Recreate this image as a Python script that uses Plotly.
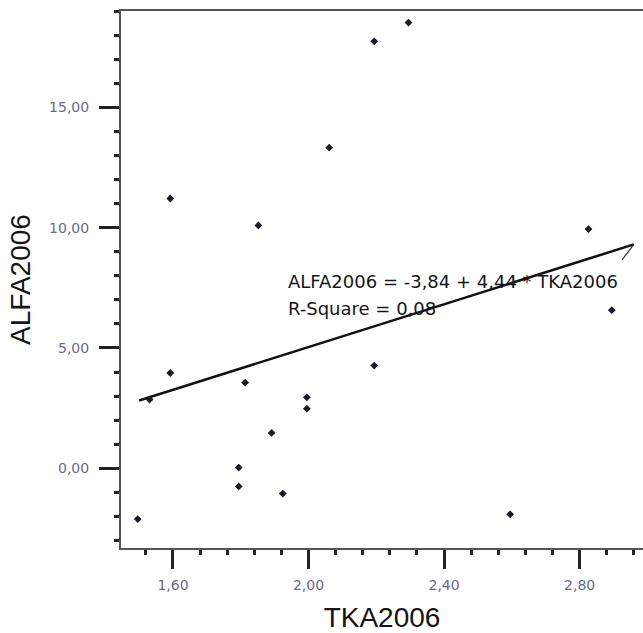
import plotly.graph_objects as go

# ---- data ----
tka2006 = [1.592, 1.852, 2.061, 2.194, 2.295, 2.826, 2.895, 1.592, 1.531, 1.813,
           2.194, 1.995, 1.995, 1.891, 1.794, 1.794, 1.924, 2.595, 1.496]
alfa2006 = [11.21, 10.09, 13.32, 17.74, 18.52, 9.94, 6.57, 3.96, 2.86, 3.56,
            4.27, 2.95, 2.48, 1.47, 0.03, -0.75, -1.05, -1.91, -2.11]

fit_intercept = -3.84
fit_slope = 4.44
fit_x = [1.50, 2.96]
fit_y = [fit_intercept + fit_slope * v for v in fit_x]

eq_text = "ALFA2006 = -3,84 + 4,44 * TKA2006"
r2_text = "R-Square = 0,08"

x_range = [1.4466, 2.987]
y_range = [-3.31, 19.0]

fig = go.Figure()
fig.add_trace(go.Scatter(
    x=fit_x, y=fit_y, mode="lines",
    line=dict(color="#111111", width=2.5), showlegend=False, hoverinfo="skip"))
fig.add_trace(go.Scatter(
    x=tka2006, y=alfa2006, mode="markers",
    marker=dict(symbol="diamond", size=6, color="#1b1b2b"),
    showlegend=False))

# leader from the line end toward the label
fig.add_annotation(x=fit_x[1], y=fit_y[1], ax=-13, ay=17, text="",
                   showarrow=True, arrowhead=0, arrowwidth=1.2, arrowcolor="#333333")

label_font = dict(family="DejaVu Sans, Liberation Sans, sans-serif", size=18, color="#151520")
fig.add_annotation(x=1.934, y=7.78, xanchor="left", yanchor="middle", text=eq_text,
                   showarrow=False, font=label_font)
fig.add_annotation(x=1.934, y=6.65, xanchor="left", yanchor="middle", text=r2_text,
                   showarrow=False, font=label_font)

tick_font = dict(family="DejaVu Sans, Liberation Sans, sans-serif", size=14, color="#6a6a8c")
title_font = dict(family="Liberation Sans, Arial, sans-serif", size=28, color="#151515")

fig.update_layout(
    width=643, height=633,
    margin=dict(l=121, r=0, t=11, b=85),
    paper_bgcolor="white", plot_bgcolor="white",
    separators=",.",
    xaxis=dict(
        range=x_range, showgrid=False, zeroline=False,
        showline=True, linecolor="#555555", linewidth=2, mirror=True,
        ticks="outside", ticklen=19, tickwidth=3, tickcolor="#222222",
        tick0=1.6, dtick=0.4, tickformat=".2f", tickfont=tick_font,
        ticklabelstandoff=4,
        minor=dict(ticks="outside", ticklen=5, tickwidth=3, tickcolor="#222222",
                   dtick=0.08, tick0=1.6, showgrid=False),
        title=dict(text="TKA2006", font=title_font, standoff=18),
    ),
    yaxis=dict(
        range=y_range, showgrid=False, zeroline=False,
        showline=True, linecolor="#555555", linewidth=2,
        ticks="outside", ticklen=20, tickwidth=3, tickcolor="#222222",
        tick0=0, dtick=5, tickformat=".2f", tickfont=tick_font,
        ticklabelstandoff=7,
        minor=dict(ticks="outside", ticklen=5, tickwidth=3, tickcolor="#222222",
                   dtick=1, tick0=0, showgrid=False),
        title=dict(text="ALFA2006", font=title_font, standoff=10),
    ),
)

fig.write_html(
    "out.html",
    config={"displayModeBar": False},
    post_script="document.body.style.margin='0';document.body.style.overflow='hidden';",
)
